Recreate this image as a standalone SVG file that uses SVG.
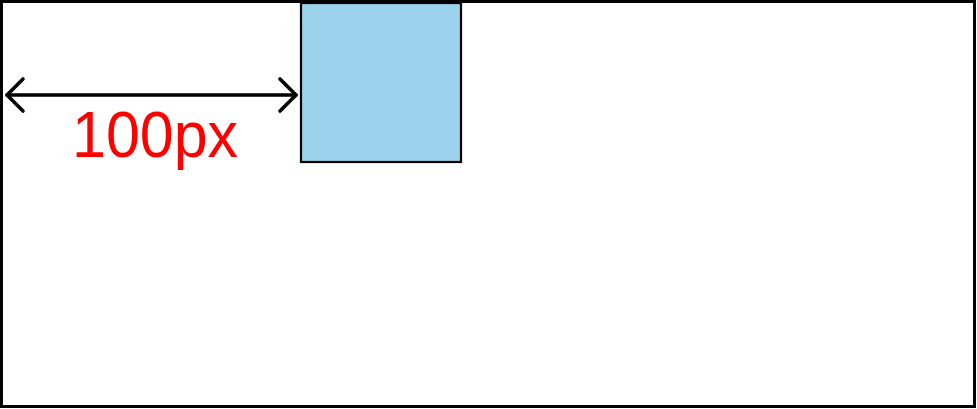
<svg xmlns="http://www.w3.org/2000/svg" width="977" height="409" viewBox="0 0 977 409">
  <style>
    .frame { fill: #ffffff; stroke: #000000; stroke-width: 3; }
    .box { fill: #9AD3EB; stroke: #000000; stroke-width: 2.2; }
    .conn { fill: none; stroke: #000000; stroke-width: 3.6; stroke-linecap: round; stroke-linejoin: round; }
    .label { fill: #FF0000; font-family: "Liberation Sans", Arial, sans-serif; font-size: 64px; }
  </style>
  <rect x="0" y="0" width="977" height="409" fill="#ffffff"/>
  <g id="frame">
    <rect class="frame" x="1.5" y="1.5" width="973" height="405"/>
  </g>
  <g id="box">
    <rect class="box" x="301" y="3" width="160" height="159"/>
  </g>
  <g id="connectors">
    <line class="conn" x1="7" y1="95" x2="296" y2="95"/>
    <polyline class="conn" points="23,79 7,95 23,111"/>
    <polyline class="conn" points="280,79 296,95 280,111"/>
  </g>
  <g id="label">
    <text class="label" x="155" y="157" text-anchor="middle" textLength="166" lengthAdjust="spacingAndGlyphs">100px</text>
  </g>
</svg>
